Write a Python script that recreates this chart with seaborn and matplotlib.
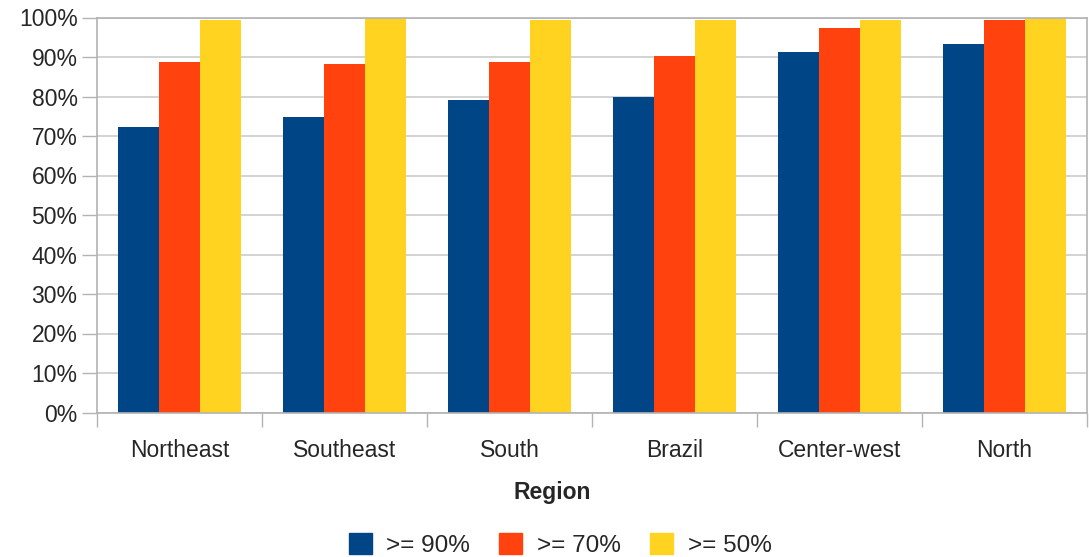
import pandas as pd
import seaborn as sns
import matplotlib
import matplotlib.pyplot as plt
from matplotlib.ticker import FixedLocator, PercentFormatter
from matplotlib.patches import Patch

matplotlib.use('Agg')

# Data
regions = ["Northeast", "Southeast", "South", "Brazil", "Center-west", "North"]
thresholds = [">= 90%", ">= 70%", ">= 50%"]
share_90 = [72.3, 74.8, 79.1, 79.9, 91.3, 93.3]
share_70 = [88.7, 88.2, 88.7, 90.3, 97.3, 99.4]
share_50 = [99.4, 100.0, 99.4, 99.4, 99.4, 100.0]
colors = ["#004586", "#ff420e", "#ffd320"]

df = pd.DataFrame({
    "Region": regions * 3,
    "Threshold": [t for t in thresholds for _ in regions],
    "Share": share_90 + share_70 + share_50,
})

sns.set_style("white")
plt.rcParams['font.family'] = ['Liberation Sans', 'DejaVu Sans']

fig = plt.figure(figsize=(10.89, 5.57), dpi=100)
ax = fig.add_axes([97 / 1089, 1 - 412.5 / 557, 990 / 1089, 395 / 557])

sns.barplot(
    data=df, x="Region", y="Share", hue="Threshold",
    order=regions, hue_order=thresholds, palette=colors,
    width=0.75, gap=0, saturation=1, errorbar=None, legend=False,
    linewidth=0, ax=ax,
)

grid_c = "#b3b3b3"
ax.set_ylim(0, 100)
ax.set_xlim(-0.5, len(regions) - 0.5)
ax.set_yticks(range(0, 101, 10))
ax.yaxis.set_major_formatter(PercentFormatter(decimals=0))
ax.yaxis.grid(True, color="#cccccc", linewidth=1.2)
ax.set_axisbelow(True)

# group separators as major ticks, labels on minor ticks
ax.xaxis.set_major_locator(FixedLocator([i - 0.5 for i in range(len(regions) + 1)]))
ax.xaxis.set_minor_locator(FixedLocator(list(range(len(regions)))))
ax.set_xticklabels([], minor=False)
ax.set_xticklabels(regions, minor=True)
ax.tick_params(axis="x", which="major", length=10, width=1, color=grid_c, bottom=True)
ax.tick_params(axis="x", which="minor", length=0, pad=19, labelsize=16.5)
ax.tick_params(axis="y", length=11, width=1, color=grid_c, left=True, pad=3, labelsize=16.5)

for s in ax.spines.values():
    s.set_visible(True)
    s.set_color(grid_c)
    s.set_linewidth(1.2)

ax.set_ylabel("")
ax.set_xlabel("")
fig.text(552 / 1089, 1 - 493 / 557, "Region", ha="center", va="center",
         fontsize=16.5, fontweight="bold")

handles = [Patch(facecolor=c, edgecolor=c) for c in colors]
fig.legend(handles, thresholds, loc="center", bbox_to_anchor=(560 / 1089, 1 - 545 / 557),
           ncol=3, frameon=False, fontsize=17.5, handlelength=0.95, handleheight=0.95,
           handletextpad=0.6, columnspacing=1.2)

fig.savefig("out.png", dpi=100)
